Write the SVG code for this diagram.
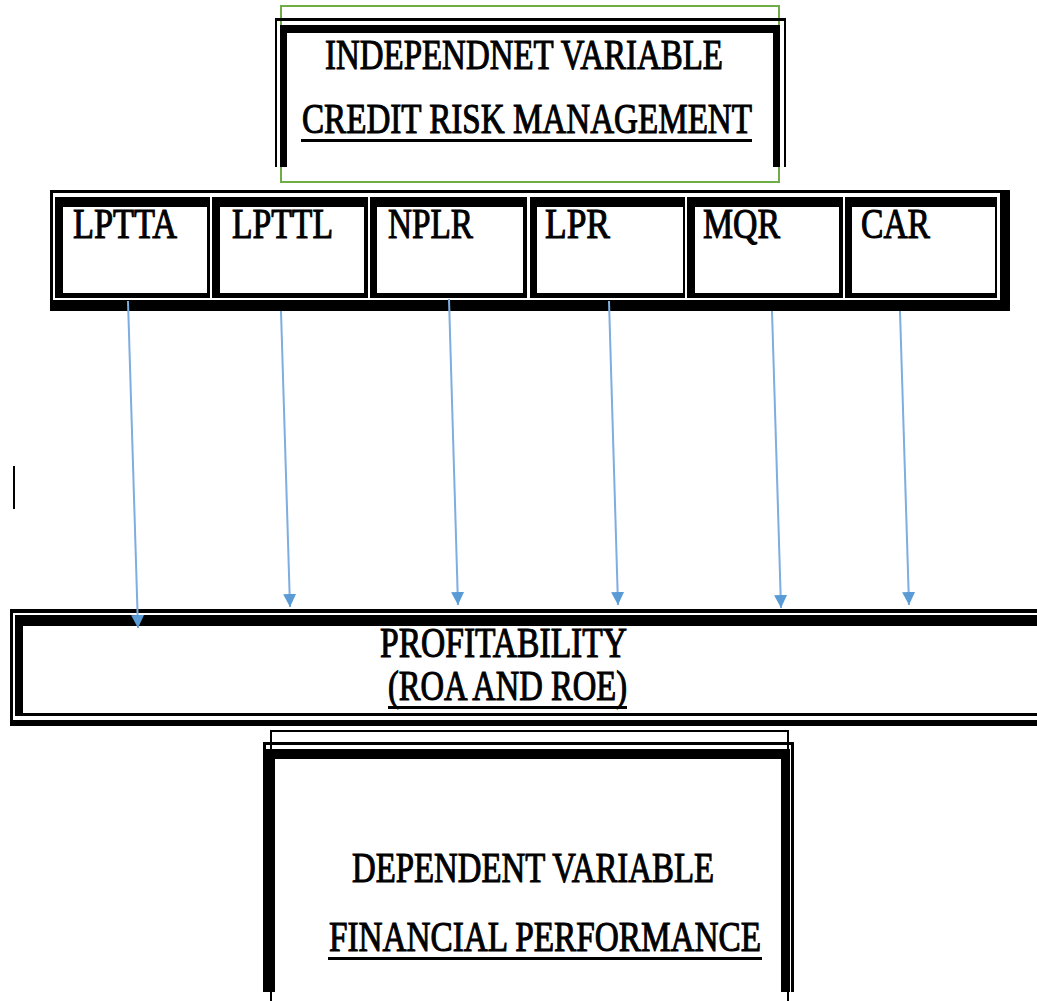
<svg xmlns="http://www.w3.org/2000/svg" width="1037" height="1001" viewBox="0 0 1037 1001">
<defs>
<style>
.t{font-family:"Liberation Serif","Times New Roman",serif;font-weight:normal;font-size:42px;fill:#000;stroke:#000;stroke-width:1.1}
.blk{fill:#000}
.wht{fill:#fff}
.conn{stroke:#7EADDF;stroke-width:2;fill:none;marker-end:url(#ah)}
</style>
<marker id="ah" viewBox="0 0 10 10" refX="10" refY="5" markerWidth="13" markerHeight="14" markerUnits="userSpaceOnUse" orient="auto">
<path d="M0,0 L10,5 L0,10 z" fill="#5B9BD5"/>
</marker>
</defs>
<rect x="0" y="0" width="1037" height="1001" fill="#fff"/>

<g id="independent">
<rect x="281" y="6" width="498" height="176" fill="none" stroke="#70AD47" stroke-width="2"/>
<rect class="blk" x="275" y="18" width="511" height="3"/>
<rect class="blk" x="275" y="18" width="2" height="149"/>
<rect class="blk" x="784" y="18" width="2" height="149"/>
<rect class="blk" x="280" y="25" width="500" height="8"/>
<rect class="blk" x="280" y="25" width="7" height="142"/>
<rect class="blk" x="773" y="25" width="7" height="142"/>
<text class="t" x="325" y="69" textLength="398" lengthAdjust="spacingAndGlyphs">INDEPENDNET VARIABLE</text>
<text class="t" x="302" y="133" textLength="450" lengthAdjust="spacingAndGlyphs">CREDIT RISK MANAGEMENT</text>
<rect class="blk" x="301" y="139" width="451" height="3"/>
</g>

<g id="variables">
<rect class="blk" x="50" y="190" width="960" height="121"/>
<rect class="wht" x="53" y="193" width="947" height="107"/>
<g id="lptta"><rect class="blk" x="55" y="197" width="155" height="101"/><rect class="wht" x="63" y="207" width="144" height="86"/><text class="t" x="73" y="238" textLength="104" lengthAdjust="spacingAndGlyphs">LPTTA</text></g>
<g id="lpttl"><rect class="blk" x="212" y="197" width="156" height="101"/><rect class="wht" x="220" y="207" width="144" height="86"/><text class="t" x="232" y="238" textLength="101" lengthAdjust="spacingAndGlyphs">LPTTL</text></g>
<g id="nplr"><rect class="blk" x="370" y="197" width="157" height="101"/><rect class="wht" x="377" y="207" width="146" height="86"/><text class="t" x="388" y="238" textLength="85" lengthAdjust="spacingAndGlyphs">NPLR</text></g>
<g id="lpr"><rect class="blk" x="530" y="197" width="155" height="101"/><rect class="wht" x="537" y="207" width="146" height="86"/><text class="t" x="545" y="238" textLength="65" lengthAdjust="spacingAndGlyphs">LPR</text></g>
<g id="mqr"><rect class="blk" x="687" y="197" width="156" height="101"/><rect class="wht" x="695" y="207" width="144" height="86"/><text class="t" x="703" y="238" textLength="77" lengthAdjust="spacingAndGlyphs">MQR</text></g>
<g id="car"><rect class="blk" x="845" y="197" width="152" height="101"/><rect class="wht" x="852" y="207" width="143" height="86"/><text class="t" x="861" y="238" textLength="69" lengthAdjust="spacingAndGlyphs">CAR</text></g>
</g>

<g id="profitability">
<rect class="blk" x="10" y="609" width="1027" height="117"/>
<rect class="wht" x="13" y="613" width="1024" height="107"/>
<rect class="blk" x="15" y="615" width="1022" height="101"/>
<rect class="wht" x="23" y="626" width="1014" height="87"/>
<text class="t" x="380" y="657" textLength="247" lengthAdjust="spacingAndGlyphs">PROFITABILITY</text>
<text class="t" x="388" y="700" textLength="239" lengthAdjust="spacingAndGlyphs">(ROA AND ROE)</text>
<rect class="blk" x="388" y="706" width="239" height="3"/>
</g>

<g id="dependent">
<rect class="blk" x="270" y="730" width="518" height="2"/>
<rect class="blk" x="270" y="730" width="2" height="271"/>
<rect class="blk" x="787" y="730" width="2" height="271"/>
<rect class="blk" x="263" y="742" width="531" height="3"/>
<rect class="blk" x="263" y="742" width="3" height="250"/>
<rect class="blk" x="791" y="742" width="3" height="250"/>
<rect class="blk" x="266" y="749" width="524" height="10"/>
<rect class="blk" x="266" y="749" width="9" height="243"/>
<rect class="blk" x="781" y="749" width="9" height="243"/>
<text class="t" x="352" y="882" textLength="362" lengthAdjust="spacingAndGlyphs">DEPENDENT VARIABLE</text>
<text class="t" x="329" y="951" textLength="432" lengthAdjust="spacingAndGlyphs">FINANCIAL PERFORMANCE</text>
<rect class="blk" x="328" y="957" width="434" height="3"/>
</g>

<rect id="cursor-mark" class="blk" x="13" y="466" width="2" height="43"/>

<g id="connectors">
<line class="conn" x1="128" y1="301" x2="138" y2="628"/>
<line class="conn" x1="281" y1="311" x2="290" y2="607"/>
<line class="conn" x1="449" y1="299" x2="458" y2="605"/>
<line class="conn" x1="609" y1="301" x2="618" y2="605"/>
<line class="conn" x1="772" y1="311" x2="781" y2="608"/>
<line class="conn" x1="900" y1="311" x2="909" y2="605"/>
</g>
</svg>
